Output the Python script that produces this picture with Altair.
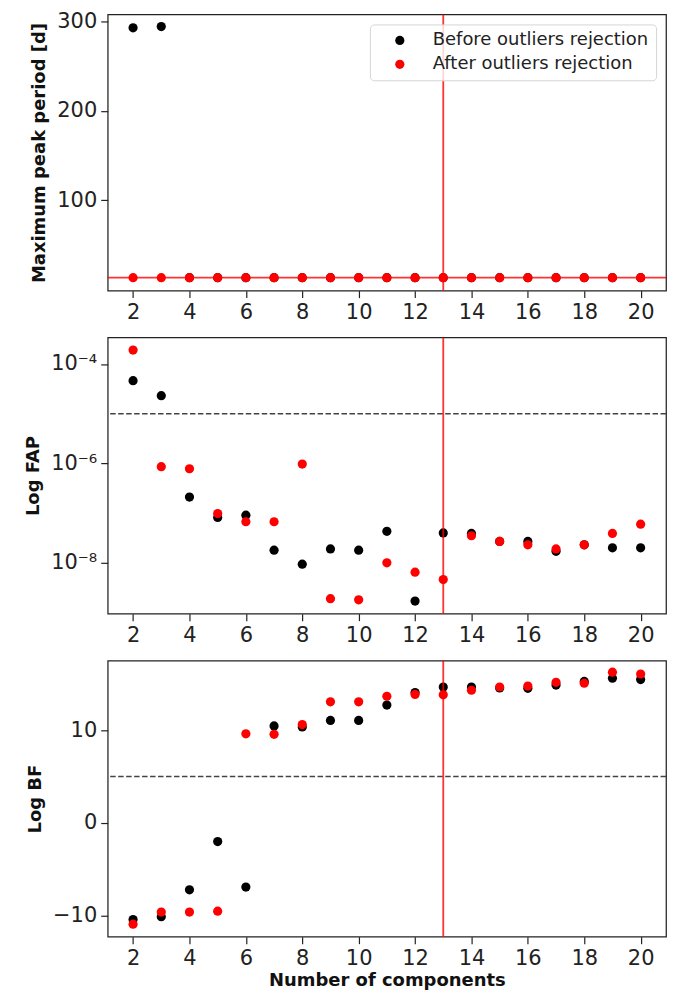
import altair as alt
import pandas as pd

color_range = ["#000000", "#ff0000"]
series_names = ["Before outliers rejection", "After outliers rejection"]

n_components = [2, 3, 4, 5, 6, 7, 8, 9, 10, 11, 12, 13, 14, 15, 16, 17, 18, 19, 20]

# Maximum peak period [d]
period_before = [293, 294.5, 13.5, 13.5, 13.5, 13.5, 13.5, 13.5, 13.5, 13.5,
                 13.5, 13.5, 13.5, 13.5, 13.5, 13.5, 13.5, 13.5, 13.5]
period_after = [13.5, 13.5, 13.5, 13.5, 13.5, 13.5, 13.5, 13.5, 13.5, 13.5,
                13.5, 13.5, 13.5, 13.5, 13.5, 13.5, 13.5, 13.5, 13.5]

# False alarm probability
fap_before = [4.6e-5, 2.3e-5, 2.1e-7, 8.2e-8, 9.1e-8, 1.8e-8, 9.4e-9, 1.9e-8, 1.8e-8, 4.3e-8,
              1.7e-9, 4.0e-8, 3.9e-8, 2.7e-8, 2.7e-8, 1.7e-8, 2.3e-8, 2.0e-8, 2.0e-8]
fap_after = [1.9e-4, 8.6e-7, 7.8e-7, 9.8e-8, 6.7e-8, 6.7e-8, 9.7e-7, 1.9e-9, 1.8e-9, 1.0e-8,
             6.5e-9, 4.6e-9, 3.5e-8, 2.7e-8, 2.3e-8, 1.9e-8, 2.3e-8, 3.9e-8, 6.0e-8]

# Log Bayes factor
bf_before = [-10.4, -10.1, -7.2, -2.0, -6.9, 10.45, 10.35, 11.05, 11.05, 12.7,
             14.05, 14.65, 14.65, 14.55, 14.5, 14.85, 15.25, 15.6, 15.45]
bf_after = [-10.9, -9.6, -9.6, -9.5, 9.6, 9.55, 10.6, 13.05, 13.05, 13.65,
            13.85, 13.8, 14.3, 14.65, 14.75, 15.15, 15.05, 16.25, 16.05]

chosen_n = [13]
period_line = [13.5]
fap_threshold = [1e-5]
bf_threshold = [5]

x_ticks = [2, 4, 6, 8, 10, 12, 14, 16, 18, 20]


def to_long(before, after):
    # Before rows first so the red points are drawn on top
    df = pd.DataFrame({
        'n': n_components * 2,
        'variable': [series_names[0]] * len(before) + [series_names[1]] * len(after),
        'value': before + after,
    })
    return df


def plot_panel(df, y_title, y_scale, y_axis, hline=None, hline_dashed=True,
               show_legend=False, x_title=None):
    x_enc = alt.X('n:Q', scale=alt.Scale(domain=[1.1, 20.9], nice=False, zero=False),
                  axis=alt.Axis(values=x_ticks, title=x_title))

    if show_legend:
        legend = alt.Legend(orient='top-right', offset=10, title=None, padding=7,
                            symbolOffset=14, labelOffset=24, rowPadding=6,
                            symbolType='circle', symbolSize=85, symbolStrokeWidth=0,
                            labelFontSize=18, labelLimit=400, labelColor='#222222',
                            fillColor='rgba(255,255,255,0.8)', strokeColor='#d5d5d5',
                            cornerRadius=4)
    else:
        legend = None

    points = (
        alt.Chart(df)
        .mark_circle(size=85, opacity=1)
        .encode(
            x=x_enc,
            y=alt.Y('value:Q', scale=y_scale, axis=y_axis, title=y_title),
            color=alt.Color('variable:N', sort=series_names,
                            scale=alt.Scale(domain=series_names, range=color_range),
                            legend=legend),
        )
    )

    layers = [points]

    if hline is not None:
        if hline_dashed:
            h_rule = (alt.Chart(pd.DataFrame({'y': hline}))
                      .mark_rule(color='#444444', strokeWidth=1.5, strokeDash=[5.5, 2.5])
                      .encode(y='y:Q'))
        else:
            h_rule = (alt.Chart(pd.DataFrame({'y': hline}))
                      .mark_rule(color='#ff0000', opacity=0.8, strokeWidth=1.8)
                      .encode(y='y:Q'))
        layers.append(h_rule)

    v_rule = (alt.Chart(pd.DataFrame({'x': chosen_n}))
              .mark_rule(color='#ff0000', opacity=0.8, strokeWidth=1.8)
              .encode(x='x:Q'))
    layers.append(v_rule)

    chart = alt.layer(*layers).properties(width=560, height=277)
    return chart


period_chart = plot_panel(
    to_long(period_before, period_after),
    'Maximum peak period [d]',
    alt.Scale(domain=[-1, 308], nice=False, zero=False),
    alt.Axis(values=[100, 200, 300]),
    hline=period_line, hline_dashed=False, show_legend=True,
)

fap_chart = plot_panel(
    to_long(fap_before, fap_after),
    'Log FAP',
    alt.Scale(type='log', domain=[9.5e-10, 3.4e-4], nice=False),
    alt.Axis(values=[1e-8, 1e-6, 1e-4],
             labelExpr="'10' + replace(replace(replace(replace(toString(round(log(datum.value)/LN10)), '-', '⁻'), '4', '⁴'), '6', '⁶'), '8', '⁸')"),
    hline=fap_threshold,
)

bf_chart = plot_panel(
    to_long(bf_before, bf_after),
    'Log BF',
    alt.Scale(domain=[-12.25, 17.5], nice=False, zero=False),
    alt.Axis(values=[-10, 0, 10], labelExpr="replace(datum.label, '-', '−')"),
    hline=bf_threshold, x_title='Number of components',
)

chart = (
    alt.vconcat(period_chart, fap_chart, bf_chart, spacing=12)
    .resolve_scale(color='independent')
    .resolve_legend(color='independent')
    .properties(padding={'left': 16, 'top': 0, 'right': 5, 'bottom': 5})
    .configure(font='DejaVu Sans')
    .configure_view(stroke='#222222', strokeWidth=1.25)
    .configure_axis(
        grid=False, domain=False,
        tickColor='#222222', tickSize=7, tickWidth=1.2,
        labelColor='#222222', labelFont='DejaVu Sans', labelFontSize=21, labelPadding=4,
        titleColor='#111111', titleFont='DejaVu Sans', titleFontWeight='bold',
        titleFontSize=18, titlePadding=8,
    )
    .configure_axisX(titlePadding=3)
)

chart.save("out.html", embed_options={"renderer": "svg", "actions": False})
